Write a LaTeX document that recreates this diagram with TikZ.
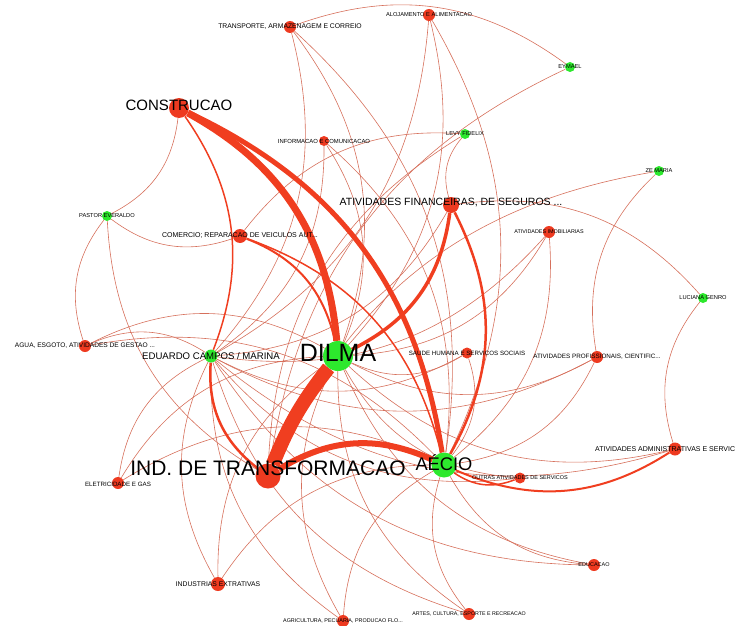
\documentclass[tikz,border=0pt]{standalone}
\usepackage{fontspec}
\setmainfont{Liberation Sans}
\usetikzlibrary{backgrounds}
\definecolor{nred}{RGB}{238,58,32}
\definecolor{ngreen}{RGB}{45,232,45}
\definecolor{ethin}{RGB}{214,112,92}
\definecolor{ethick}{RGB}{240,62,32}
\begin{document}
\begin{tikzpicture}[x=1pt,y=1pt,
  sec/.style={circle,fill=nred,draw=none,inner sep=0pt,minimum size=#1},
  cand/.style={circle,fill=ngreen,draw=none,inner sep=0pt,minimum size=#1},
  lbl/.style={inner sep=0pt,text=black,font=\fontsize{#1}{#1}\selectfont},
  ed/.style={draw=ethin,line width=0.6pt,bend left=28},
  eb/.style={draw=ethick,line width=#1,bend left=28}]
\useasboundingbox (0,0) rectangle (747,-626);
\clip (0,0) rectangle (747,-626);
% nodes
\node[sec=12] (tra) at (290,-27) {};
\node[sec=12] (alo) at (429,-15) {};
\node[cand=10] (eym) at (570,-67) {};
\node[sec=20] (con) at (179,-108) {};
\node[sec=10] (inf) at (324,-141) {};
\node[cand=10] (lev) at (465,-134) {};
\node[cand=10] (ze) at (659,-171) {};
\node[cand=10] (pas) at (107,-216) {};
\node[sec=16] (fin) at (451,-205) {};
\node[sec=14] (com) at (240,-236) {};
\node[sec=12] (imo) at (549,-232) {};
\node[cand=10] (luc) at (703,-298) {};
\node[sec=12] (agu) at (85,-346) {};
\node[cand=13] (edu) at (211,-356) {};
\node[cand=30] (dil) at (338,-356) {};
\node[sec=11] (sau) at (467,-353) {};
\node[sec=12] (pro) at (597,-357) {};
\node[sec=13] (adm) at (675,-449) {};
\node[cand=25] (aec) at (444,-465) {};
\node[sec=11] (out) at (520,-478) {};
\node[sec=25] (ind) at (268,-476) {};
\node[sec=12] (ele) at (118,-483) {};
\node[sec=14] (ext) at (218,-584) {};
\node[sec=12] (edc) at (594,-565) {};
\node[sec=12] (agr) at (343,-621) {};
\node[sec=12] (art) at (469,-614) {};
% edges
\begin{pgfonlayer}{background}
\foreach \s in {tra,alo,inf,imo,agu,sau,pro,adm,out,ele,ext,edc,agr,art}
  \draw[ed] (\s) to (dil);
\foreach \s in {tra,alo,inf,imo,agu,sau,pro,ele,ext,edc,agr,art}
  \draw[ed] (\s) to (aec);
\foreach \s in {tra,alo,inf,fin,imo,agu,sau,pro,adm,out,ele,ext,edc,agr,art}
  \draw[ed] (\s) to (edu);
\foreach \s in {con,com,ind,agu} \draw[ed] (\s) to (pas);
\foreach \s in {ind,com,fin} \draw[ed] (\s) to (lev);
\foreach \s in {tra,ind} \draw[ed] (\s) to (eym);
\foreach \s in {pro,ind} \draw[ed] (\s) to (ze);
\foreach \s in {adm,fin} \draw[ed] (\s) to (luc);
\draw[eb=7pt] (con) to (dil);
\draw[eb=5pt] (con) to (aec);
\draw[eb=14pt,bend left=8] (ind) to (dil);
\draw[eb=6pt] (ind) to (aec);
\draw[eb=3.5pt] (fin) to (dil);
\draw[eb=2.5pt] (fin) to (aec);
\draw[eb=2.5pt] (ind) to (edu);
\draw[eb=2pt] (com) to (dil);
\draw[eb=1.5pt] (com) to (aec);
\draw[eb=1.5pt] (con) to (edu);
\draw[eb=2pt] (adm) to (aec);
\draw[eb=1.5pt] (out) to (aec);
\end{pgfonlayer}
% labels
\node[lbl=6.8] at (tra) {TRANSPORTE, ARMAZENAGEM E CORREIO};
\node[lbl=5.7] at (alo) {ALOJAMENTO E ALIMENTACAO};
\node[lbl=5.7] at (eym) {EYMAEL};
\node[lbl=15] at ([yshift=3pt]con.center) {CONSTRUCAO};
\node[lbl=5.9] at (inf) {INFORMACAO E COMUNICACAO};
\node[lbl=5.7] at (lev) {LEVY FIDELIX};
\node[lbl=5.7] at (ze) {ZE MARIA};
\node[lbl=5.7] at (pas) {PASTOR EVERALDO};
\node[lbl=10.5] at ([yshift=2pt]fin.center) {ATIVIDADES FINANCEIRAS, DE SEGUROS ...};
\node[lbl=7] at (com) {COMERCIO; REPARACAO DE VEICULOS AUT...};
\node[lbl=5.4] at (imo) {ATIVIDADES IMOBILIARIAS};
\node[lbl=5.7] at (luc) {LUCIANA GENRO};
\node[lbl=6.6] at (agu) {AGUA, ESGOTO, ATIVIDADES DE GESTAO ...};
\node[lbl=9.6] at (edu) {EDUARDO CAMPOS / MARINA};
\node[lbl=25] at ([yshift=3pt]dil.center) {DILMA};
\node[lbl=6.2] at (sau) {SAUDE HUMANA E SERVICOS SOCIAIS};
\node[lbl=6.3] at (pro) {ATIVIDADES PROFISSIONAIS, CIENTIFIC...};
\node[lbl=7,anchor=west] at ([xshift=-80pt]adm.center) {ATIVIDADES ADMINISTRATIVAS E SERVIC};
\node[lbl=18.3] at ([yshift=2pt]aec.center) {AÉCIO};
\node[lbl=5.5] at (out) {OUTRAS ATIVIDADES DE SERVICOS};
\node[lbl=21] at ([yshift=8pt]ind.center) {IND. DE TRANSFORMACAO};
\node[lbl=6.2] at ([yshift=-1pt]ele.center) {ELETRICIDADE E GAS};
\node[lbl=6.8] at (ext) {INDUSTRIAS EXTRATIVAS};
\node[lbl=5.5] at (edc) {EDUCACAO};
\node[lbl=5.4] at (agr) {AGRICULTURA, PECUARIA, PRODUCAO FLO...};
\node[lbl=5.3] at (art) {ARTES, CULTURA, ESPORTE E RECREACAO};
\end{tikzpicture}
\end{document}
